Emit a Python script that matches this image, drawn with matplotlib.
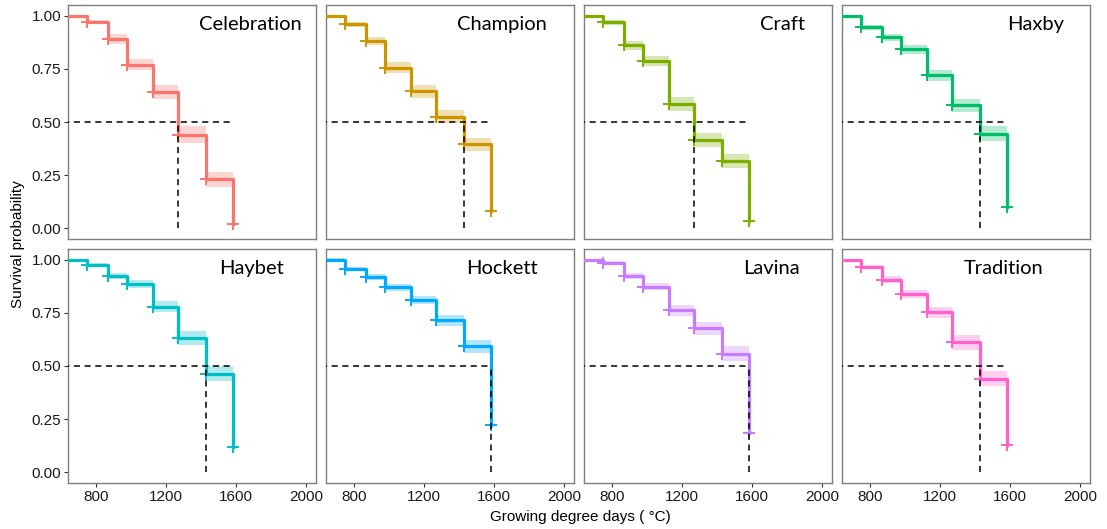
import matplotlib
matplotlib.use("Agg")
import matplotlib.pyplot as plt

# event times (growing degree days) shared by all cultivars
times = [745, 865, 975, 1125, 1265, 1430, 1580]

cultivars = ["Celebration", "Champion", "Craft", "Haxby",
             "Haybet", "Hockett", "Lavina", "Tradition"]

# survival probability: start level, then the level after each event
celebration = [1.00, 0.97, 0.89, 0.77, 0.64, 0.44, 0.23, 0.02]
champion = [1.00, 0.96, 0.88, 0.755, 0.645, 0.525, 0.395, 0.08]
craft = [1.00, 0.968, 0.86, 0.785, 0.585, 0.415, 0.315, 0.035]
haxby = [1.00, 0.945, 0.898, 0.842, 0.72, 0.578, 0.445, 0.10]
haybet = [1.00, 0.977, 0.925, 0.884, 0.778, 0.631, 0.464, 0.12]
hockett = [1.00, 0.956, 0.92, 0.87, 0.811, 0.714, 0.592, 0.222]
lavina = [1.00, 0.984, 0.922, 0.873, 0.761, 0.677, 0.558, 0.186]
tradition = [1.00, 0.964, 0.905, 0.839, 0.752, 0.612, 0.441, 0.128]

# half width of the confidence band on each level before the last event
celebration_ci = [0.0, 0.010, 0.024, 0.026, 0.034, 0.040, 0.036]
champion_ci = [0.0, 0.012, 0.020, 0.025, 0.030, 0.030, 0.032]
craft_ci = [0.0, 0.010, 0.020, 0.024, 0.032, 0.033, 0.033]
haxby_ci = [0.0, 0.012, 0.016, 0.020, 0.026, 0.032, 0.035]
haybet_ci = [0.0, 0.008, 0.014, 0.018, 0.026, 0.032, 0.036]
hockett_ci = [0.006, 0.010, 0.014, 0.016, 0.020, 0.025, 0.032]
lavina_ci = [0.0, 0.008, 0.014, 0.016, 0.026, 0.032, 0.034]
tradition_ci = [0.0, 0.010, 0.016, 0.020, 0.025, 0.035, 0.035]

# median survival time of each cultivar
medians = [1265, 1430, 1265, 1430, 1430, 1580, 1580, 1430]

surv = [celebration, champion, craft, haxby, haybet, hockett, lavina, tradition]
ci = [celebration_ci, champion_ci, craft_ci, haxby_ci,
      haybet_ci, hockett_ci, lavina_ci, tradition_ci]

colors = ["#F8766D", "#CD9600", "#7CAE00", "#00BE67",
          "#00BFC4", "#00A9FF", "#C77CFF", "#FF61CC"]

# label centres inside each panel (axes fraction)
label_x = [0.735, 0.71, 0.80, 0.78, 0.74, 0.71, 0.755, 0.65]

W, H = 1107, 529
fig = plt.figure(figsize=(W / 100, H / 100), dpi=100)

lefts = [68, 326, 584, 842]
tops = [5, 249]
pw, ph = 248, 234

tick_font = {"family": "Liberation Sans", "size": 11}
x0 = 0
hline_end = max(medians)

for k, name in enumerate(cultivars):
    r, c = divmod(k, 4)
    ax = fig.add_axes([lefts[c] / W, 1 - (tops[r] + ph) / H, pw / W, ph / H])
    col = colors[k]
    s = surv[k]
    xs = [x0] + times

    lo = [v - h for v, h in zip(s[:7], ci[k])] + [s[6] - ci[k][6]]
    hi = [v + h for v, h in zip(s[:7], ci[k])] + [s[6] + ci[k][6]]
    ax.fill_between(xs, lo, hi, step="post", color=col, alpha=0.3, lw=0)
    ax.step(xs, s, where="post", color=col, lw=2.3, zorder=3)
    ax.plot(times, s[1:], ls="none", marker="+", ms=9, mew=1.4, color=col, zorder=4)

    # median lines
    ax.plot([x0, hline_end], [0.5, 0.5], color="black", ls=(0, (4, 3)), lw=1.1, zorder=5)
    ax.plot([medians[k], medians[k]], [0, 0.5], color="black", ls=(0, (4, 3)), lw=1.1, zorder=5)

    ax.set_xlim(638, 2057)
    ax.set_ylim(-0.05, 1.05)
    ax.set_xticks([800, 1200, 1600, 2000])
    ax.set_yticks([0, 0.25, 0.5, 0.75, 1.0])
    ax.tick_params(length=3, width=0.8, color="#333333", pad=2, labelcolor="#1a1a1a")
    if c == 0:
        ax.set_yticklabels(["0.00", "0.25", "0.50", "0.75", "1.00"], fontdict=tick_font)
    else:
        ax.tick_params(axis="y", left=False, labelleft=False)
    if r == 1:
        ax.set_xticklabels(["800", "1200", "1600", "2000"], fontdict=tick_font)
    else:
        ax.tick_params(axis="x", bottom=False, labelbottom=False)

    for sp in ax.spines.values():
        sp.set_color("#7f7f7f")
        sp.set_linewidth(1.0)

    ax.text(label_x[k], 0.915, name, transform=ax.transAxes, ha="center", va="center",
            fontsize=14.5, family="Lato", color="black")

fig.text(18 / W, 1 - 244 / H, "Survival probability", rotation=90, ha="center", va="center",
         fontsize=11, family="Liberation Sans")
fig.text(580 / W, 1 - 517 / H, "Growing degree days ( \u00b0C)", ha="center", va="center",
         fontsize=11, family="Liberation Sans")

fig.savefig("out.png", dpi=100)
